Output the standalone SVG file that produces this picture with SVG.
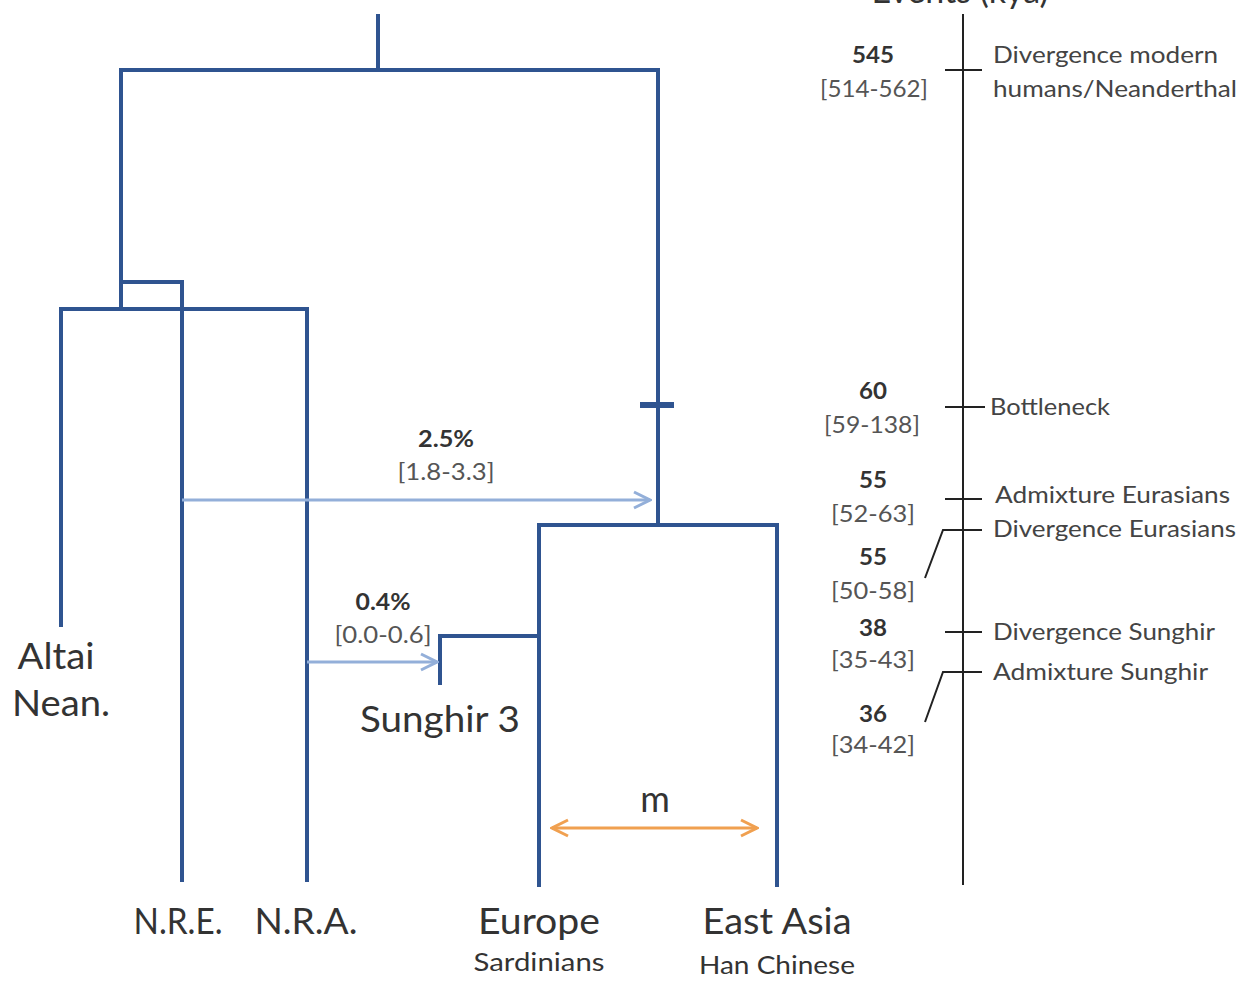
<svg xmlns="http://www.w3.org/2000/svg" width="1248" height="982" viewBox="0 0 1248 982">
<defs>
<style>
.br{fill:none;stroke:#2f5490;stroke-width:4;stroke-linecap:square}
.ad{fill:none;stroke:#93afd9;stroke-width:3}
.tl{fill:none;stroke:#222;stroke-width:2}
text{font-family:Lato,"Open Sans","Liberation Sans",sans-serif;fill:#333}
.big{font-size:36px;text-anchor:middle}
.sub{font-size:25px;text-anchor:middle}
.pct{font-size:22px;font-weight:bold;text-anchor:middle}
.ci{font-size:23px;text-anchor:middle;fill:#555}
.ev{font-size:24px;fill:#444}
</style>
<marker id="ah" viewBox="0 0 20 20" refX="18" refY="10" markerWidth="20" markerHeight="20" markerUnits="userSpaceOnUse" orient="auto-start-reverse">
<path d="M2,2 L18,10 L2,18" fill="none" stroke="#93afd9" stroke-width="3"/>
</marker>
<marker id="oh" viewBox="0 0 20 20" refX="18" refY="10" markerWidth="20" markerHeight="20" markerUnits="userSpaceOnUse" orient="auto-start-reverse">
<path d="M2,2 L18,10 L2,18" fill="none" stroke="#f0a050" stroke-width="3"/>
</marker>
</defs>
<rect width="1248" height="982" fill="#fff"/>

<g id="tree">
<path class="br" d="M378,16 V70 M121,70 H658 M121,70 V309 M658,70 V525"/>
<path class="br" d="M121,282 H182 V880"/>
<path class="br" d="M61,309 H307 M61,309 V625 M307,309 V880"/>
<path class="br" d="M539,525 H777 M539,525 V885 M777,525 V885"/>
<path class="br" d="M539,636 H440 V683"/>
<path d="M640,405 H674" stroke="#2f5490" stroke-width="6"/>
</g>

<g id="connectors">
<path class="ad" d="M182,500 H650" marker-end="url(#ah)"/>
<path class="ad" d="M307,662 H437" marker-end="url(#ah)"/>
<path d="M552,828 H757" fill="none" stroke="#f0a050" stroke-width="3" marker-start="url(#oh)" marker-end="url(#oh)"/>
</g>

<g id="labels">
<text class="big" x="56" y="669" textLength="77" lengthAdjust="spacingAndGlyphs">Altai</text>
<text class="big" x="61" y="716" textLength="98" lengthAdjust="spacingAndGlyphs">Nean.</text>
<text class="big" x="178" y="934" textLength="89" lengthAdjust="spacingAndGlyphs">N.R.E.</text>
<text class="big" x="306" y="934" textLength="103" lengthAdjust="spacingAndGlyphs">N.R.A.</text>
<text class="big" x="539" y="934" textLength="122" lengthAdjust="spacingAndGlyphs">Europe</text>
<text class="sub" x="539" y="971" textLength="131" lengthAdjust="spacingAndGlyphs">Sardinians</text>
<text class="big" x="777" y="934" textLength="149" lengthAdjust="spacingAndGlyphs">East Asia</text>
<text class="sub" x="777" y="974" textLength="156" lengthAdjust="spacingAndGlyphs">Han Chinese</text>
<text class="big" x="440" y="732" textLength="160" lengthAdjust="spacingAndGlyphs">Sunghir 3</text>
<text class="big" x="655" y="812">m</text>
<text class="pct" x="446" y="447" textLength="56" lengthAdjust="spacingAndGlyphs">2.5%</text>
<text class="ci" x="446" y="480" textLength="97" lengthAdjust="spacingAndGlyphs">[1.8-3.3]</text>
<text class="pct" x="383" y="610" textLength="55" lengthAdjust="spacingAndGlyphs">0.4%</text>
<text class="ci" x="383" y="643" textLength="97" lengthAdjust="spacingAndGlyphs">[0.0-0.6]</text>
</g>

<g id="timeline">
<text x="960" y="3" style="font-size:34px;text-anchor:middle">Events (kya)</text>
<path class="tl" d="M963,14 V885"/>
<path class="tl" d="M945,70 H982 M945,407 H985 M945,499 H982 M925,578 L943,530 H982 M945,632 H982 M925,722 L943,672 H982"/>
<text class="pct" x="873" y="63" textLength="42" lengthAdjust="spacingAndGlyphs">545</text>
<text class="ci" x="874" y="97" textLength="108" lengthAdjust="spacingAndGlyphs">[514-562]</text>
<text class="pct" x="873" y="399" textLength="28" lengthAdjust="spacingAndGlyphs">60</text>
<text class="ci" x="872" y="433" textLength="96" lengthAdjust="spacingAndGlyphs">[59-138]</text>
<text class="pct" x="873" y="488" textLength="28" lengthAdjust="spacingAndGlyphs">55</text>
<text class="ci" x="873" y="522" textLength="84" lengthAdjust="spacingAndGlyphs">[52-63]</text>
<text class="pct" x="873" y="565" textLength="28" lengthAdjust="spacingAndGlyphs">55</text>
<text class="ci" x="873" y="599" textLength="84" lengthAdjust="spacingAndGlyphs">[50-58]</text>
<text class="pct" x="873" y="636" textLength="28" lengthAdjust="spacingAndGlyphs">38</text>
<text class="ci" x="873" y="668" textLength="84" lengthAdjust="spacingAndGlyphs">[35-43]</text>
<text class="pct" x="873" y="722" textLength="28" lengthAdjust="spacingAndGlyphs">36</text>
<text class="ci" x="873" y="753" textLength="84" lengthAdjust="spacingAndGlyphs">[34-42]</text>
<text class="ev" x="993" y="63" textLength="225" lengthAdjust="spacingAndGlyphs">Divergence modern</text>
<text class="ev" x="993" y="97" textLength="244" lengthAdjust="spacingAndGlyphs">humans/Neanderthal</text>
<text class="ev" x="990" y="415" textLength="120" lengthAdjust="spacingAndGlyphs">Bottleneck</text>
<text class="ev" x="995" y="503" textLength="235" lengthAdjust="spacingAndGlyphs">Admixture Eurasians</text>
<text class="ev" x="993" y="537" textLength="243" lengthAdjust="spacingAndGlyphs">Divergence Eurasians</text>
<text class="ev" x="993" y="640" textLength="222" lengthAdjust="spacingAndGlyphs">Divergence Sunghir</text>
<text class="ev" x="993" y="680" textLength="215" lengthAdjust="spacingAndGlyphs">Admixture Sunghir</text>
</g>
</svg>
